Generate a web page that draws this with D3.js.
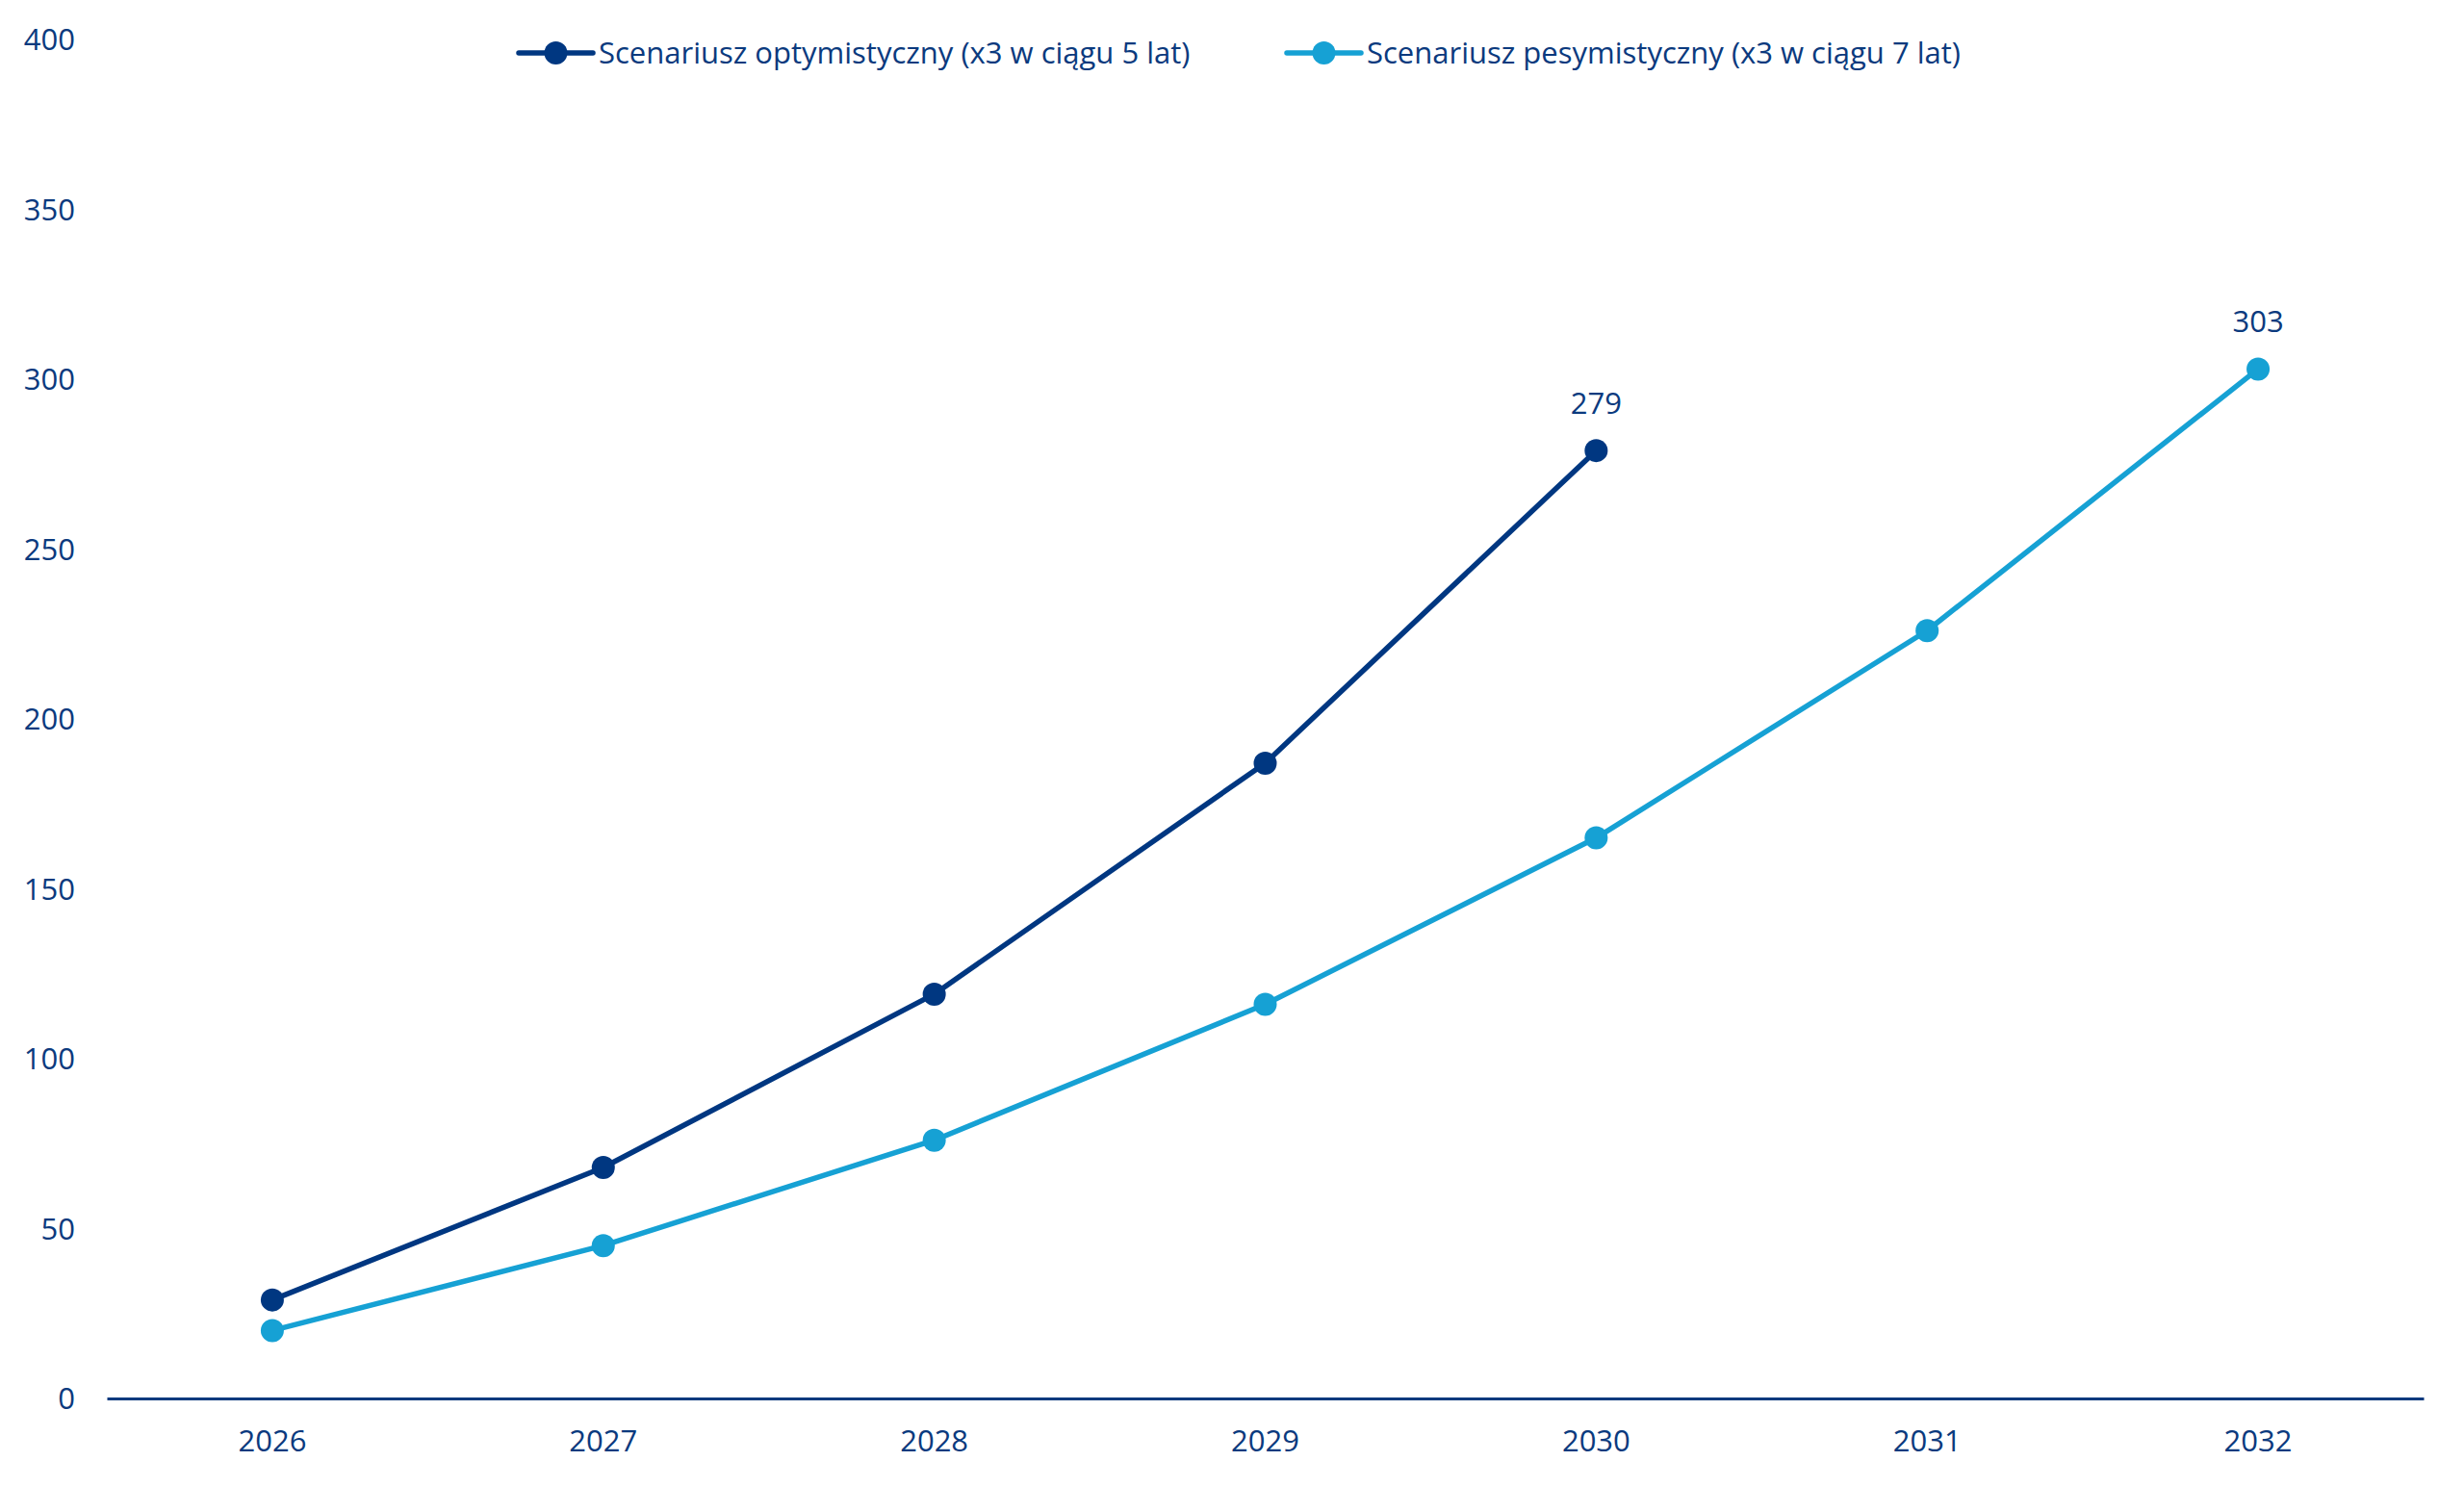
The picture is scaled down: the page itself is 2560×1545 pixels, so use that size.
<!DOCTYPE html>
<html>
<head>
<meta charset="utf-8">
<script src="https://cdn.jsdelivr.net/npm/d3@7"></script>
<style>
  body { margin: 0; background: #fff; }
  text { font-family: "Open Sans", "Noto Sans", sans-serif; fill: #0b3a7e; }
</style>
</head>
<body>
<div id="chart-area"></div>
<script>
// data
var years = ["2026", "2027", "2028", "2029", "2030", "2031", "2032"];
var optimistic = [29, 68, 119, 187, 279];
var pessimistic = [20, 45, 76, 116, 165, 226, 303];
var seriesNames = ["Scenariusz optymistyczny (x3 w ciągu 5 lat)", "Scenariusz pesymistyczny (x3 w ciągu 7 lat)"];
var yTicks = [0, 50, 100, 150, 200, 250, 300, 350, 400];

var width = 2560, height = 1545;
var darkBlue = "#003781", lightBlue = "#16a1d4";
var fontSize = "31px";

var svg = d3.select("#chart-area").append("svg")
    .attr("width", width)
    .attr("height", height);

var x = d3.scaleBand()
    .domain(years)
    .range([111, 2518])
    .padding(0);

var y = d3.scaleLinear()
    .domain([0, 400])
    .range([1453, 41]);

// y axis labels (no line)
var leftAxis = d3.axisLeft(y).tickValues(yTicks).tickSize(0).tickPadding(0);
svg.append("g")
    .attr("class", "left axis")
    .attr("transform", "translate(78,0)")
    .call(leftAxis)
    .call(g => g.select(".domain").remove())
    .selectAll("text")
        .attr("font-size", fontSize)
        .attr("fill", "#0b3a7e")
        .attr("dy", "0.35em");

// x axis
var bottomAxis = d3.axisBottom(x).tickSize(0).tickPadding(0);
var xg = svg.append("g")
    .attr("class", "bottom axis")
    .attr("transform", "translate(0," + y(0) + ")")
    .call(bottomAxis);
xg.select(".domain")
    .attr("stroke", "#0b3a7e")
    .attr("stroke-width", 3);
xg.selectAll("text")
    .attr("font-size", fontSize)
    .attr("fill", "#0b3a7e")
    .attr("y", 44)
    .attr("dy", "0.35em");

var cx = d => x(d.year) + x.bandwidth() / 2;

var series = [
    {name: seriesNames[0], color: darkBlue, values: optimistic.map((v, i) => ({year: years[i], value: v}))},
    {name: seriesNames[1], color: lightBlue, values: pessimistic.map((v, i) => ({year: years[i], value: v}))}
];

var line = d3.line()
    .x(cx)
    .y(d => y(d.value));

series.forEach(s => {
    svg.append("path")
        .datum(s.values)
        .attr("fill", "none")
        .attr("stroke", s.color)
        .attr("stroke-width", 5.5)
        .attr("stroke-linejoin", "round")
        .attr("d", line);

    svg.selectAll(null)
        .data(s.values)
        .enter()
        .append("circle")
        .attr("cx", cx)
        .attr("cy", d => y(d.value))
        .attr("r", 12)
        .attr("fill", s.color);

    // label on last point
    var last = s.values[s.values.length - 1];
    svg.append("text")
        .attr("x", cx(last))
        .attr("y", y(last.value) - 49)
        .attr("text-anchor", "middle")
        .attr("dy", "0.35em")
        .attr("font-size", fontSize)
        .text(last.value);
});

// legend
var legendX = [539, 1337];
series.forEach((s, i) => {
    var lg = svg.append("g").attr("transform", "translate(" + legendX[i] + ",55)");
    lg.append("line")
        .attr("x1", 0).attr("x2", 77)
        .attr("y1", 0).attr("y2", 0)
        .attr("stroke", s.color)
        .attr("stroke-width", 5.5)
        .attr("stroke-linecap", "round");
    lg.append("circle")
        .attr("cx", 38.5)
        .attr("cy", 0)
        .attr("r", 12)
        .attr("fill", s.color);
    lg.append("text")
        .attr("x", 83)
        .attr("y", 0)
        .attr("dy", "0.35em")
        .attr("font-size", fontSize)
        .text(s.name);
});
</script>
</body>
</html>
